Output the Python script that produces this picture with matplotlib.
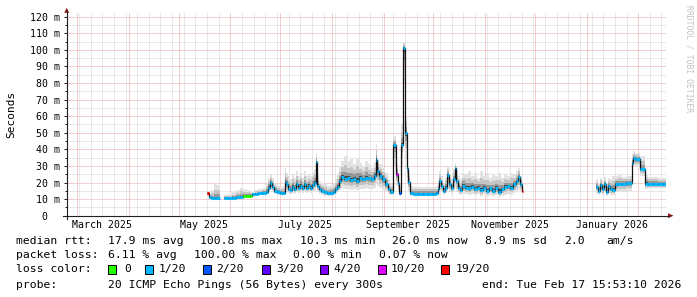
import datetime as dt
import matplotlib
matplotlib.use("Agg")
import matplotlib.pyplot as plt
import matplotlib.dates as mdates
from matplotlib.lines import Line2D
from matplotlib.patches import Polygon, Rectangle
import numpy as np

plt.rcParams['font.family'] = ['DejaVu Sans Mono']

# ---------------- data (days since 2025-03-01, values in ms) ----------------
BASE = dt.datetime(2025, 3, 1)
T_START = dt.datetime(2025, 2, 22, 15, 53, 10)
T_END = dt.datetime(2026, 2, 17, 15, 53, 10)

days_a = [78.7, 79.9, 81.1, 82.9, 84.7]
med_a = [13.4, 11.0, 10.4, 10.4, 10.5]
hi_a = [14.5, 13.0, 15.5, 19.0, 18.5]
lo_a = [12.0, 10.0, 9.8, 9.8, 9.9]
loss_a = [19, 1, 1, 1, 1]

days_b = [89.5, 91.9, 94.3, 96.7, 99.1, 100.3, 102.7, 104.5, 105.7, 107.5,
          109.9, 112.3, 114.1, 115.3, 116.5, 117.7, 118.9, 120.7, 122.5, 124.3,
          124.9, 126.1, 127.3, 128.5, 129.7, 130.9, 132.1, 133.3, 134.5, 135.7,
          136.9, 138.1, 139.3, 140.5, 141.7, 142.9, 143.5, 144.7, 145.9, 147.1,
          148.9, 150.8, 152.6, 154.4, 155.6, 156.8, 158.0, 159.2, 161.0, 162.8,
          164.6, 166.4, 168.2, 170.0, 171.8, 173.6, 175.4, 177.2, 179.0, 179.6,
          180.8, 182.0, 183.8, 185.6, 187.4, 188.6, 191.0, 192.2, 192.8, 194.0,
          195.2, 196.4, 197.6, 198.2, 199.4, 200.6, 203.0, 206.0, 209.0, 212.0,
          215.0, 216.2, 216.8, 218.0, 219.2, 220.4, 221.6, 222.8, 224.0, 225.2,
          226.4, 227.0, 228.2, 229.4, 230.6, 231.8, 233.6, 235.4, 237.2, 239.0,
          240.8, 242.6, 244.4, 246.2, 248.0, 249.8, 251.7, 253.5, 255.3, 257.1,
          258.9, 260.7, 262.5, 264.3, 265.5, 266.7, 267.3]
med_b = [10.4, 10.4, 10.6, 11.0, 11.4, 11.8, 11.8, 11.8, 12.8, 13.2,
         13.4, 13.6, 14.5, 17.0, 19.5, 17.5, 15.0, 14.0, 13.5, 13.5,
         20.5, 19.0, 16.0, 15.5, 17.5, 16.0, 19.0, 17.0, 18.0, 16.5,
         19.0, 16.5, 18.0, 17.0, 18.5, 20.0, 32.5, 18.0, 16.0, 15.0,
         14.0, 13.5, 13.8, 14.5, 16.0, 17.5, 21.0, 23.5, 22.0, 22.5,
         21.5, 22.0, 21.0, 22.5, 22.0, 23.0, 22.5, 22.0, 24.0, 33.5,
         27.0, 24.0, 22.0, 19.0, 16.0, 14.5, 42.5, 25.0, 19.7, 13.9,
         42.6, 101.0, 50.0, 28.8, 20.5, 13.5, 13.3, 13.2, 13.2, 13.3,
         13.3, 13.5, 16.0, 21.0, 18.0, 15.0, 17.0, 24.5, 19.0, 16.5,
         22.0, 28.5, 21.0, 17.0, 15.5, 18.0, 17.0, 16.5, 17.5, 16.0,
         17.0, 15.5, 17.0, 15.0, 16.5, 15.0, 17.0, 14.5, 16.0, 17.5,
         18.0, 17.0, 19.0, 21.0, 23.5, 19.0, 14.8]
hi_b = [12.5, 13.0, 14.0, 15.5, 17.0, 16.0, 15.5, 15.0, 14.5, 15.5,
        16.0, 17.0, 19.0, 23.0, 25.0, 23.0, 20.0, 18.0, 17.5, 18.0,
        28.5, 26.0, 24.0, 22.0, 25.0, 23.0, 27.0, 24.0, 26.0, 23.0,
        27.0, 24.0, 25.0, 24.0, 26.0, 28.0, 37.5, 25.0, 21.0, 20.0,
        19.0, 18.0, 18.5, 19.5, 22.0, 25.0, 30.0, 33.0, 36.0, 33.0,
        34.0, 31.0, 35.0, 32.0, 30.0, 33.0, 31.0, 29.0, 32.0, 43.0,
        34.0, 31.0, 29.0, 26.0, 22.0, 19.0, 48.0, 32.0, 26.0, 18.0,
        55.0, 105.0, 60.0, 36.0, 26.0, 18.0, 17.5, 17.5, 17.5, 17.5,
        17.5, 18.0, 21.0, 27.0, 24.0, 20.0, 23.0, 30.0, 25.0, 22.0,
        28.0, 32.0, 27.0, 24.0, 22.0, 26.0, 25.0, 27.0, 24.0, 26.0,
        23.0, 27.0, 24.0, 26.0, 23.0, 25.0, 24.0, 26.0, 23.0, 25.0,
        24.0, 26.0, 25.0, 27.0, 29.0, 24.0, 16.5]
lo_b = [10.0, 10.0, 10.1, 10.3, 10.6, 11.0, 11.0, 11.0, 11.8, 12.2,
        12.4, 12.5, 13.0, 14.5, 15.5, 14.5, 13.0, 12.5, 12.3, 12.3,
        15.0, 14.5, 13.5, 13.0, 13.5, 13.0, 14.0, 13.5, 14.0, 13.5,
        14.5, 13.5, 14.0, 13.5, 14.0, 15.0, 18.0, 14.0, 13.0, 12.5,
        12.0, 12.0, 12.0, 12.5, 13.0, 14.0, 15.5, 16.5, 16.0, 16.0,
        15.5, 16.0, 15.5, 16.0, 16.0, 16.5, 16.0, 16.0, 17.0, 20.0,
        18.0, 16.5, 15.5, 14.5, 13.0, 12.5, 30.0, 18.0, 15.0, 12.0,
        30.0, 80.0, 35.0, 20.0, 15.0, 12.0, 12.5, 12.5, 12.5, 12.5,
        12.5, 12.5, 13.0, 15.0, 14.0, 12.5, 13.5, 16.0, 14.0, 13.0,
        15.0, 17.0, 14.5, 13.0, 12.5, 13.0, 13.0, 12.5, 13.0, 12.5,
        13.0, 12.0, 13.0, 12.0, 12.5, 12.0, 12.5, 11.5, 12.0, 12.5,
        13.0, 12.5, 13.5, 14.5, 15.5, 14.0, 13.5]
loss_b = [1, 1, 1, 1, 1, 0, 0, 0, 1, 1,
          1, 1, 1, 1, 1, 1, 1, 1, 1, 1,
          1, 1, 1, 1, 1, 1, 1, 1, 1, 1,
          1, 1, 1, 1, 1, 1, 1, 1, 1, 1,
          1, 1, 1, 1, 1, 1, 1, 1, 1, 1,
          1, 1, 1, 1, 1, 1, 1, 1, 1, 1,
          1, 1, 1, 1, 1, 1, 1, 10, 1, 2,
          1, 1, 1, 1, 1, 1, 1, 1, 1, 1,
          1, 1, 1, 1, 1, 1, 1, 1, 1, 1,
          1, 1, 1, 1, 1, 1, 1, 1, 1, 1,
          1, 1, 1, 1, 1, 1, 1, 1, 1, 1,
          1, 1, 1, 1, 1, 1, 19]

days_c = [312.3, 313.5, 314.7, 315.9, 317.1, 318.3, 319.5, 320.7, 321.9, 323.7,
          326.1, 328.5, 330.9, 332.7, 333.3, 334.5, 335.1, 340.8, 342.0, 344.4,
          347.4, 350.5, 353.5]
med_c = [17.4, 15.0, 18.5, 16.0, 19.0, 14.5, 18.0, 16.0, 15.5, 19.2,
         19.4, 19.4, 19.5, 19.6, 31.6, 34.5, 34.0, 28.0, 19.4, 19.3,
         19.3, 19.3, 19.3]
hi_c = [22.0, 20.0, 23.0, 21.0, 23.5, 20.0, 23.0, 22.0, 24.0, 24.0,
        24.5, 23.5, 24.0, 24.0, 37.0, 39.0, 38.0, 36.0, 25.0, 23.5,
        23.5, 23.0, 23.0]
lo_c = [13.0, 12.5, 13.5, 12.5, 14.0, 12.0, 13.5, 12.5, 12.5, 14.0,
        14.5, 14.5, 15.0, 15.0, 27.0, 30.0, 29.5, 24.0, 16.0, 16.5,
        16.5, 16.5, 16.5]
loss_c = [1] * 23

LOSS_LEVELS = [0, 1, 2, 3, 4, 10, 19]
LOSS_LABELS = ["0", "1/20", "2/20", "3/20", "4/20", "10/20", "19/20"]
LOSS_COLORS = ["#26ff00", "#00b8ff", "#0059ff", "#5e00ff", "#7e00ff", "#dd00ff", "#ff0000"]

Y_TICKS = list(range(0, 130, 10))
Y_TICK_LABELS = ["0  "] + ["%d m" % v for v in Y_TICKS[1:]]
X_LABEL_DATES = ["2025-03-16", "2025-05-16", "2025-07-16", "2025-09-16", "2025-11-16", "2026-01-16"]
X_LABELS = ["March 2025", "May 2025", "July 2025", "September 2025", "November 2025", "January 2026"]

LEG_MEDIAN = ["median rtt:", "17.9 ms avg", "100.8 ms max", "10.3 ms min", "26.0 ms now", "8.9 ms sd", "2.0", "am/s"]
LEG_LOSS = ["packet loss:", "6.11 % avg", "100.00 % max", "0.00 % min", "0.07 % now"]
LEG_PROBE = ["probe:", "20 ICMP Echo Pings (56 Bytes) every 300s"]
END_TEXT = "end: Tue Feb 17 15:53:10 2026"
YLABEL = "Seconds"
SIDE_TEXT = "RRDTOOL / TOBI OETIKER"

# ---------------- layout ----------------
W, H = 697, 297
AX_L, AX_R, AX_T, AX_B = 66.7, 665.9, 13.0, 215.7

fig = plt.figure(figsize=(W / 100, H / 100), dpi=100)
fig.patch.set_facecolor("white")
ax = fig.add_axes([AX_L / W, 1 - AX_B / H, (AX_R - AX_L) / W, (AX_B - AX_T) / H])
ax.set_facecolor("white")
for s in ax.spines.values():
    s.set_visible(False)

ax.set_xlim(mdates.date2num(T_START), mdates.date2num(T_END))
ax.set_ylim(0, 122.2)

def F(x, y):
    return x / W, 1 - y / H

# grid
GRID_MINOR = "#d2d2d2"
GRID_MAJOR = "#eca0a0"
for v in range(5, 125, 5):
    ax.axhline(v, color=GRID_MAJOR if v % 10 == 0 else GRID_MINOR, lw=0.72,
               dashes=(1, 1), zorder=0.5)
months = mdates.MonthLocator().tick_values(T_START, T_END)
weeks = mdates.WeekdayLocator(byweekday=mdates.SU).tick_values(T_START, T_END)
for w in weeks:
    if min(abs(w - m) for m in months) > 0.5:
        ax.axvline(w, color=GRID_MINOR, lw=0.72, dashes=(1, 1), zorder=0.5)
for m in months:
    ax.axvline(m, color=GRID_MAJOR, lw=0.72, dashes=(1, 1), zorder=0.6)

def loss_color(n):
    idx = max(i for i, lv in enumerate(LOSS_LEVELS) if lv <= n)
    return LOSS_COLORS[idx]

SMOKE_FR = [1.0, 0.62, 0.33, 0.12]
SMOKE_COL = ["#e2e2e2", "#c4c4c4", "#989898", "#4a4a4a"]

for days, med, hi, lo, loss in [(days_a, med_a, hi_a, lo_a, loss_a),
                                 (days_b, med_b, hi_b, lo_b, loss_b),
                                 (days_c, med_c, hi_c, lo_c, loss_c)]:
    x = np.array([mdates.date2num(BASE + dt.timedelta(days=d)) for d in days])
    med = np.array(med); hi = np.array(hi); lo = np.array(lo)
    mids = (x[:-1] + x[1:]) / 2
    left = np.concatenate([[x[0] - (x[1] - x[0]) / 2], mids])
    right = np.concatenate([mids, [x[-1] + (x[-1] - x[-2]) / 2]])
    width = right - left
    for f, c in zip(SMOKE_FR, SMOKE_COL):
        top = med + f * (hi - med)
        bot = med - f * (med - lo)
        ax.bar(left, top - bot, width, bottom=bot, align="edge", color=c,
               linewidth=0, zorder=1)
    ax.plot(x, med, color="#111111", lw=0.9, drawstyle="steps-mid", zorder=2)
    ax.hlines(med, left, right, colors=[loss_color(n) for n in loss], lw=2.2, zorder=3)

# ticks
ax.set_yticks(Y_TICKS)
ax.set_yticklabels(Y_TICK_LABELS)
ax.set_yticks(list(range(5, 125, 10)), minor=True)
ax.tick_params(axis="y", which="major", length=2.2, width=0.72, color="#202020",
               direction="out", pad=2.6, labelsize=7.1, labelcolor="#000000")
ax.tick_params(axis="y", which="minor", length=1.45, width=0.72, color="#202020",
               direction="out")
ax.set_xticks([mdates.date2num(dt.datetime.strptime(d, "%Y-%m-%d")) for d in X_LABEL_DATES])
ax.set_xticklabels(X_LABELS)
ax.tick_params(axis="x", which="both", length=0, pad=3.0, labelsize=7.1)

# axes lines and arrows
fig.add_artist(Line2D([F(AX_L, 0)[0]] * 2, [F(0, 218.5)[1], F(0, 11)[1]],
                      transform=fig.transFigure, color="#202020", lw=0.8))
fig.add_artist(Line2D([F(63, 0)[0], F(668.5, 0)[0]], [F(0, AX_B)[1]] * 2,
                      transform=fig.transFigure, color="#202020", lw=0.8))
ARROW = "#8a1a1a"
fig.add_artist(Polygon([F(64.2, 12.8), F(69.2, 12.8), F(66.7, 7.8)], closed=True,
                       transform=fig.transFigure, color=ARROW, lw=0))
fig.add_artist(Polygon([F(668, 213.2), F(668, 218.2), F(673.5, 215.7)], closed=True,
                       transform=fig.transFigure, color=ARROW, lw=0))

# texts
fig.text(*F(11, 114), YLABEL, rotation=90, ha="center", va="center", fontsize=8.0)
fig.text(*F(688.5, 5), SIDE_TEXT, rotation=270, ha="center", va="top",
         fontsize=5.8, color="#c2c2c2")

LEG_FS = 8.2
Y1, Y2, Y3, Y4 = 241, 255, 269, 285
X_MED = [16, 108, 200, 300, 392, 485, 564, 606]
X_LOSS = [16, 108, 194, 293, 379]
for s, xx in zip(LEG_MEDIAN, X_MED):
    fig.text(*F(xx, Y1), s, ha="left", va="center", fontsize=LEG_FS)
for s, xx in zip(LEG_LOSS, X_LOSS):
    fig.text(*F(xx, Y2), s, ha="left", va="center", fontsize=LEG_FS)
fig.text(*F(16, Y3), "loss color:", ha="left", va="center", fontsize=LEG_FS)
X_BOX = [108, 145, 203, 262, 320, 378, 441]
X_BOXLBL = [124, 159, 216, 276, 333, 391, 456]
for c, lbl, bx, lx in zip(LOSS_COLORS, LOSS_LABELS, X_BOX, X_BOXLBL):
    fig.add_artist(Rectangle(F(bx, Y3 + 4.5), 8 / W, 9 / H, transform=fig.transFigure,
                             facecolor=c, edgecolor="black", lw=0.7))
    fig.text(*F(lx, Y3), lbl, ha="left", va="center", fontsize=LEG_FS)
fig.text(*F(16, Y4), LEG_PROBE[0], ha="left", va="center", fontsize=LEG_FS)
fig.text(*F(108, Y4), LEG_PROBE[1], ha="left", va="center", fontsize=LEG_FS)
fig.text(*F(681, Y4), END_TEXT, ha="right", va="center", fontsize=LEG_FS)

fig.savefig("out.png", dpi=100, facecolor="white")
